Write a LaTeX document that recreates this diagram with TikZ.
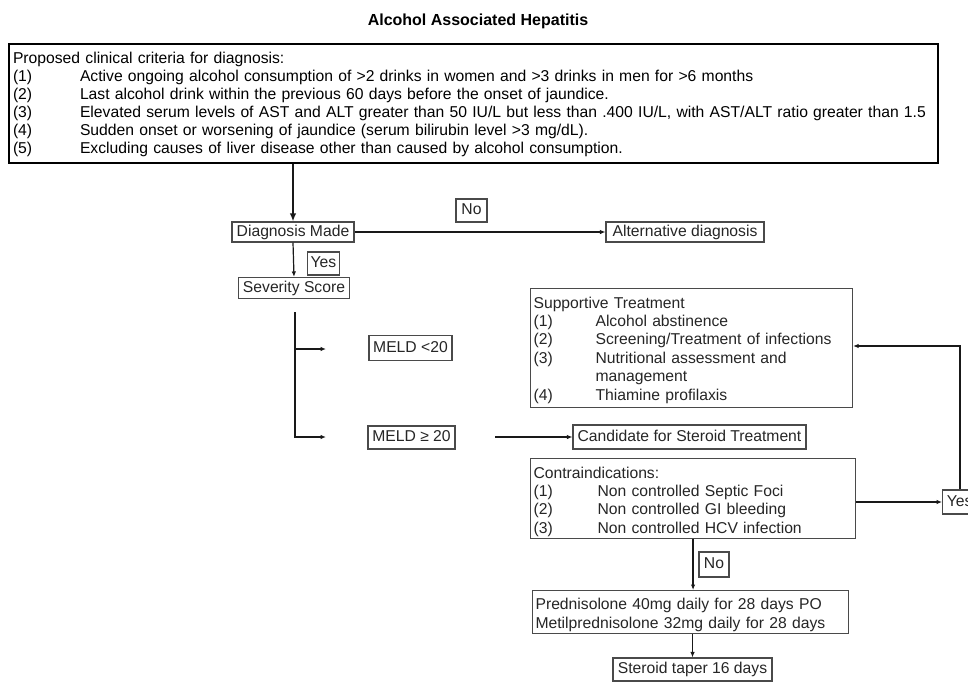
\documentclass[tikz,border=0pt]{standalone}
\usepackage{fontspec}
\setmainfont{Liberation Sans}
\usetikzlibrary{arrows.meta}
\definecolor{txt}{HTML}{262626}
\definecolor{bord}{HTML}{4A4A4A}
\newcommand\nitem[3]{\makebox[#1][l]{#2}#3}
\begin{document}
\begin{tikzpicture}[x=1pt,y=-1pt,
  font=\fontsize{15.7}{18.4}\selectfont, text=txt,
  sbox/.style={draw=bord, line width=1.1pt, inner xsep=3pt, inner ysep=0pt, text height=11.5pt, text depth=3.5pt},
  mbox/.style={draw=bord, line width=1.1pt, anchor=north west, inner xsep=3pt, inner ysep=0pt, align=left},
  conn/.style={draw=black!90, line width=1.2pt, -{Latex[length=5.5pt,width=4.5pt]}},
  plain/.style={draw=black!90, line width=1.2pt},
  ]
\useasboundingbox[fill=white] (0,0) rectangle (968,681);

\node[font=\bfseries\fontsize{16}{19}\selectfont, text=black] (title) at (478,21) {Alcohol Associated Hepatitis};

\node[mbox, draw=black, line width=2pt, inner xsep=4pt, text width=921pt, font=\fontsize{15.7}{18}\selectfont, text=black] (crit) at (8,43) {\rule{0pt}{19.6pt}Proposed clinical criteria for diagnosis:\\
\nitem{67pt}{(1)}{Active ongoing alcohol consumption of >2 drinks in women and >3 drinks in men for >6 months}\\
\nitem{67pt}{(2)}{Last alcohol drink within the previous 60 days before the onset of jaundice.}\\
\nitem{67pt}{(3)}{Elevated serum levels of AST and ALT greater than 50 IU/L but less than .400 IU/L, with AST/ALT ratio greater than 1.5}\\
\nitem{67pt}{(4)}{Sudden onset or worsening of jaundice (serum bilirubin level >3 mg/dL).}\\
\nitem{67pt}{(5)}{Excluding causes of liver disease other than caused by alcohol consumption.}\rule[-9.4pt]{0pt}{9.4pt}};

\node[sbox, minimum width=122pt, minimum height=20pt] (diag) at (293,232) {Diagnosis Made};
\node[sbox, minimum width=31pt, minimum height=23pt] (no1) at (471.5,210.5) {No};
\node[sbox, minimum width=158pt, minimum height=20pt] (alt) at (685,232) {Alternative diagnosis};
\node[sbox, minimum width=31pt, minimum height=23pt] (yes1) at (323.5,263.5) {Yes};
\node[sbox, minimum width=111pt, minimum height=21pt] (sev) at (294,288) {Severity Score};

\node[sbox, minimum width=83pt, minimum height=25pt] (m1) at (410.5,348) {MELD <20};
\node[sbox, minimum width=87pt, minimum height=23pt] (m2) at (411.5,437.5) {MELD ≥ 20};
\node[sbox, minimum width=233pt, minimum height=24pt] (cand) at (689.5,437) {Candidate for Steroid Treatment};

\node[mbox, text width=316pt] (sup) at (530,288) {\rule{0pt}{19.6pt}Supportive Treatment\\
\nitem{62pt}{(1)}{Alcohol abstinence}\\
\nitem{62pt}{(2)}{Screening/Treatment of infections}\\
\nitem{62pt}{(3)}{Nutritional assessment and}\\
\nitem{62pt}{}{management}\\
\nitem{62pt}{(4)}{Thiamine profilaxis}\rule[-7.4pt]{0pt}{7.4pt}};

\node[mbox, text width=319pt] (contra) at (530,458) {\rule{0pt}{19.6pt}Contraindications:\\
\nitem{64pt}{(1)}{Non controlled Septic Foci}\\
\nitem{64pt}{(2)}{Non controlled GI bleeding}\\
\nitem{64pt}{(3)}{Non controlled HCV infection}\rule[-4.9pt]{0pt}{4.9pt}};

\node[sbox, anchor=west, minimum width=34pt, minimum height=24pt] (yes2) at (942,502) {Yes};
\node[sbox, minimum width=30pt, minimum height=25pt] (no2) at (714,564.5) {No};

\node[mbox, text width=310pt, font=\fontsize{15.7}{19}\selectfont] (pred) at (532,590) {\rule{0pt}{18.6pt}Prednisolone 40mg daily for 28 days PO\\
Metilprednisolone 32mg daily for 28 days\rule[-5.4pt]{0pt}{5.4pt}};

\node[sbox, minimum width=159pt, minimum height=23pt] (ster) at (692.5,669.5) {Steroid taper 16 days};

% connectors
\draw[conn, line width=2pt, -{Latex[length=8pt,width=6.5pt]}] (crit.south -| diag) -- (diag.north);
\draw[conn] (diag.east) -- (alt.west);
\draw[conn] (diag.south) -- (sev.north);
\coordinate (trtop) at (295,312);
\coordinate (t1) at (326,349);
\coordinate (t2) at (326,437);
\draw[conn] (trtop) |- (t1);
\draw[conn] (trtop) |- (t2);
\coordinate (c0) at (495,437);
\draw[conn] (c0) -- (c0 -| cand.west);
\coordinate (fb) at (960,346);
\draw[conn] (yes2.north -| fb) -- (fb) -- (fb -| sup.east);
\draw[conn] (contra.east |- yes2.west) -- (yes2.west);
\draw[conn] (contra.south) -- (contra.south |- pred.north);
\draw[conn] (pred.south -| ster.north) -- (ster.north);
\end{tikzpicture}
\end{document}
